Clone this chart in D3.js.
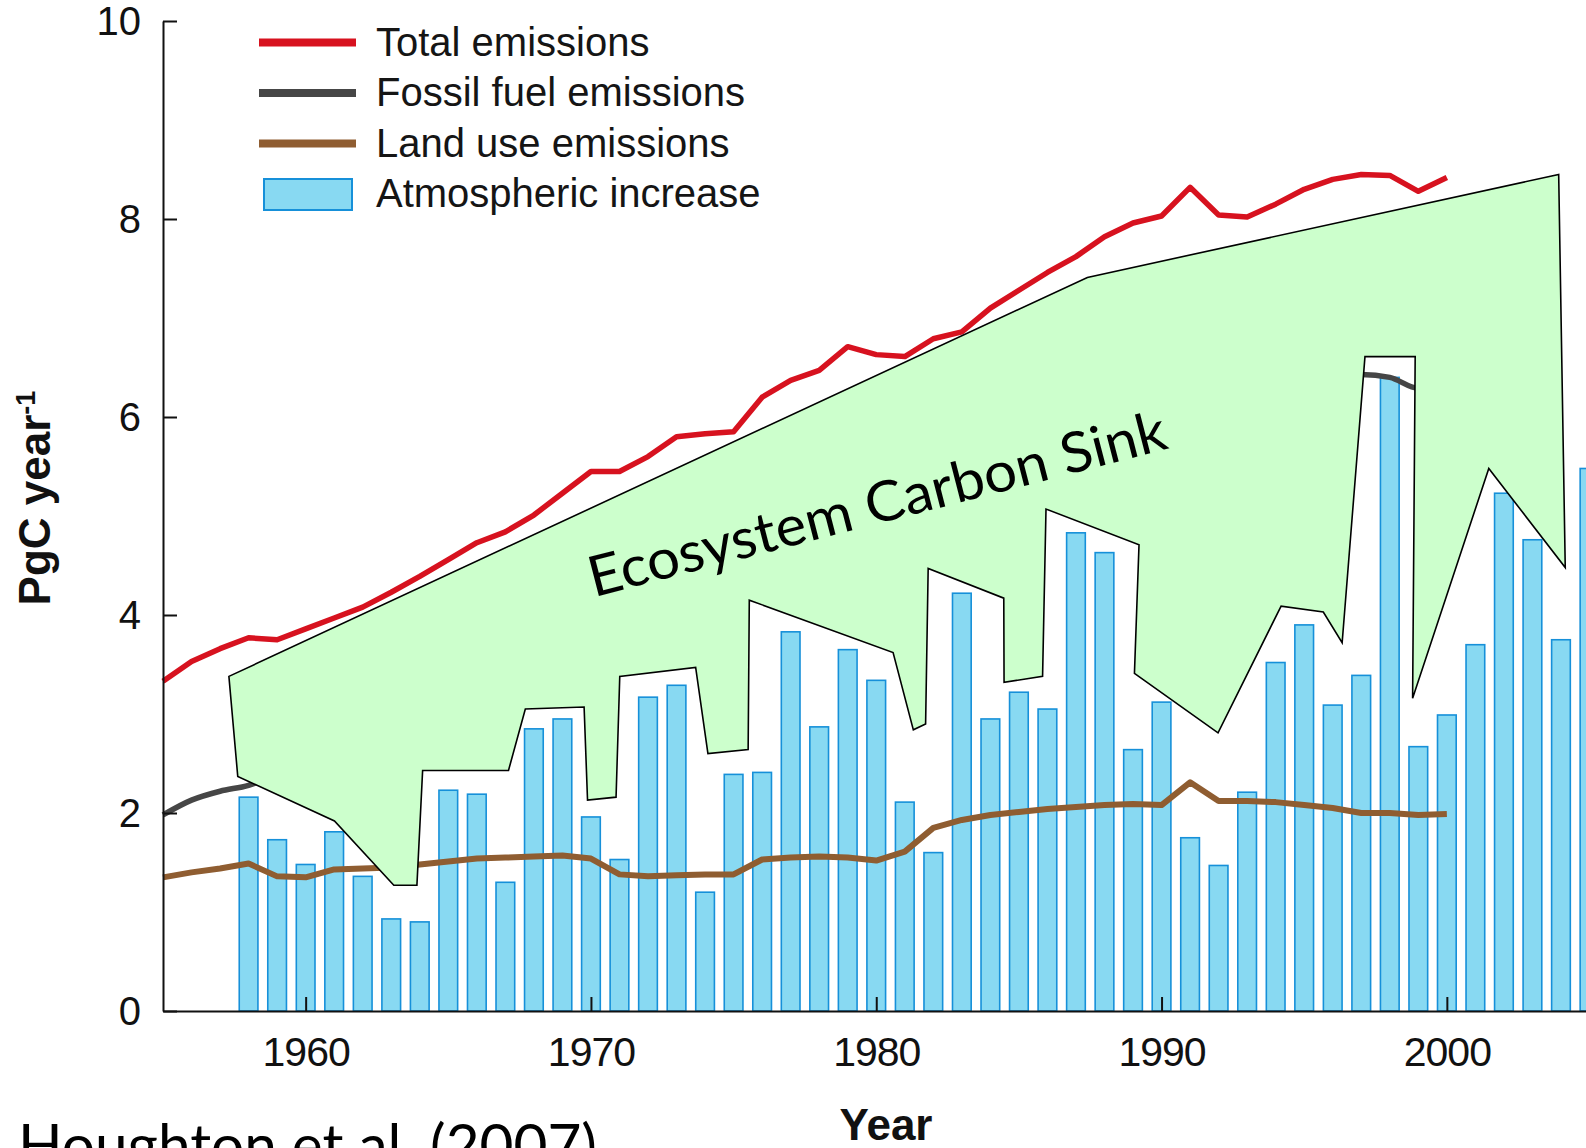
<!DOCTYPE html>
<html>
<head>
<meta charset="utf-8">
<script src="https://cdn.jsdelivr.net/npm/d3@7"></script>
<style>
  html, body { margin: 0; padding: 0; background: #ffffff; }
  svg { display: block; }
</style>
</head>
<body>
<svg id="chart" width="1586" height="1148"></svg>
<script>
// ---- Data (PgC per year) ----
const lineYears = [1955,1956,1957,1958,1959,1960,1961,1962,1963,1964,1965,1966,1967,1968,1969,
  1970,1971,1972,1973,1974,1975,1976,1977,1978,1979,1980,1981,1982,1983,1984,1985,1986,1987,1988,
  1989,1990,1991,1992,1993,1994,1995,1996,1997,1998,1999,2000];

const totalEmissions = [3.33,3.53,3.66,3.77,3.75,3.86,3.97,4.08,4.23,4.39,4.56,4.73,4.84,5.01,5.23,
  5.45,5.45,5.60,5.80,5.83,5.85,6.20,6.37,6.47,6.71,6.63,6.61,6.79,6.86,7.10,7.28,7.46,7.62,7.82,
  7.96,8.03,8.32,8.04,8.02,8.15,8.30,8.40,8.45,8.44,8.28,8.42];

const fossilFuelEmissions = [1.98,2.13,2.22,2.28,2.39,2.51,2.54,2.64,2.78,2.91,3.05,3.19,3.29,3.45,3.66,
  3.91,4.07,4.24,4.43,4.45,4.47,4.67,4.82,4.91,5.16,5.11,5.00,4.94,4.93,5.12,5.27,5.42,5.56,5.74,
  5.87,5.95,6.01,5.92,5.90,6.04,6.22,6.35,6.43,6.40,6.29,6.43];

const landUseEmissions = [1.35,1.40,1.44,1.49,1.36,1.35,1.43,1.44,1.45,1.48,1.51,1.54,1.55,1.56,1.57,
  1.54,1.38,1.36,1.37,1.38,1.38,1.53,1.55,1.56,1.55,1.52,1.61,1.85,1.93,1.98,2.01,2.04,2.06,2.08,
  2.09,2.08,2.31,2.12,2.12,2.11,2.08,2.05,2.00,2.00,1.98,1.99];

const barYears = [1958,1959,1960,1961,1962,1963,1964,1965,1966,1967,1968,1969,1970,1971,1972,1973,
  1974,1975,1976,1977,1978,1979,1980,1981,1982,1983,1984,1985,1986,1987,1988,1989,1990,1991,1992,
  1993,1994,1995,1996,1997,1998,1999,2000,2001,2002,2003,2004,2005];

const atmosphericIncrease = [2.16,1.73,1.48,1.81,1.36,0.93,0.90,2.23,2.19,1.30,2.85,2.95,1.96,1.53,
  3.17,3.29,1.20,2.39,2.41,3.83,2.87,3.65,3.34,2.11,1.60,4.22,2.95,3.22,3.05,4.83,4.63,2.64,3.12,
  1.75,1.47,2.21,3.52,3.90,3.09,3.39,6.40,2.67,2.99,3.70,5.23,4.76,3.75,5.48];

const xTickValues = [1960, 1970, 1980, 1990, 2000];
const yTickValues = [0, 2, 4, 6, 8, 10];

const legendLabels = ["Total emissions", "Fossil fuel emissions", "Land use emissions", "Atmospheric increase"];

// Outline of the ecosystem sink annotation, as [year, PgC] vertices
const sinkOutline = [
  [1957.31,3.38],[1987.40,7.41],[2003.92,8.45],[2004.15,4.48],[2001.47,5.48],[1998.80,3.16],
  [1998.89,6.61],[1997.13,6.61],[1996.33,3.72],[1995.67,4.03],[1994.19,4.09],[1991.98,2.81],
  [1989.05,3.41],[1989.21,4.71],[1985.95,5.07],[1985.83,3.38],[1984.48,3.32],[1984.47,4.17],
  [1981.82,4.47],[1981.73,2.90],[1981.30,2.84],[1980.59,3.62],[1975.55,4.15],[1975.51,2.64],
  [1974.10,2.60],[1973.67,3.47],[1971.01,3.38],[1970.88,2.16],[1969.88,2.13],[1969.76,3.07],
  [1967.70,3.05],[1967.11,2.43],[1964.10,2.43],[1963.90,1.27],[1963.09,1.27],[1961.01,1.92],
  [1957.62,2.37]
];

// ---- Styling ----
const COLORS = {
  total: "#d7121f",
  fossil: "#464646",
  land: "#8f5d31",
  barFill: "#88d9f2",
  barStroke: "#1690d9",
  sinkFill: "#ccffcc"
};
const AXIS_FONT = "'Liberation Sans', Arial, Helvetica, sans-serif";
const NOTE_FONT = "Lato, 'Open Sans', sans-serif";

const svg = d3.select("#chart");

const x = d3.scaleLinear().domain([1955, 2006]).range([163, 163 + 51 * 28.53]);
const y = d3.scaleLinear().domain([0, 10]).range([1011, 21]);

const yearStep = x(1956) - x(1955);
const barWidth = yearStep * 0.655;

// ---- Bars: atmospheric increase ----
svg.append("g")
  .selectAll("rect")
  .data(barYears.map((yr, i) => ({ yr, v: atmosphericIncrease[i] })))
  .join("rect")
  .attr("x", d => x(d.yr) - barWidth / 2)
  .attr("y", d => y(d.v))
  .attr("width", barWidth)
  .attr("height", d => y(0) - y(d.v))
  .attr("fill", COLORS.barFill)
  .attr("stroke", COLORS.barStroke)
  .attr("stroke-width", 1.6);

// ---- Emission lines ----
function drawSeries(values, color, width, curve) {
  const gen = d3.line()
    .x((d, i) => x(lineYears[i]))
    .y(d => y(d))
    .curve(curve || d3.curveLinear);
  svg.append("path")
    .datum(values)
    .attr("d", gen)
    .attr("fill", "none")
    .attr("stroke", color)
    .attr("stroke-width", width)
    .attr("stroke-linejoin", "round")
    .attr("stroke-linecap", "butt");
}
drawSeries(fossilFuelEmissions, COLORS.fossil, 5.5, d3.curveMonotoneX);
drawSeries(landUseEmissions, COLORS.land, 6);
drawSeries(totalEmissions, COLORS.total, 5.5);

// ---- Ecosystem carbon sink outline ----
svg.append("path")
  .datum(sinkOutline)
  .attr("d", d3.line().x(d => x(d[0])).y(d => y(d[1])).curve(d3.curveLinearClosed))
  .attr("fill", COLORS.sinkFill)
  .attr("stroke", "#000")
  .attr("stroke-width", 1.6)
  .attr("stroke-linejoin", "miter");

// ---- Axes ----
const xAxis = svg.append("g")
  .attr("transform", `translate(0,${y(0)})`)
  .call(d3.axisBottom(x).tickValues(xTickValues).tickFormat(d3.format("d"))
    .tickSizeInner(-14).tickSizeOuter(0).tickPadding(26));

const yAxis = svg.append("g")
  .attr("transform", `translate(${x(1955)},0)`)
  .call(d3.axisLeft(y).tickValues(yTickValues).tickFormat(d3.format("d"))
    .tickSizeInner(-14).tickSizeOuter(0).tickPadding(22));

[xAxis, yAxis].forEach(g => {
  g.select(".domain").attr("stroke", "#111").attr("stroke-width", 2);
  g.selectAll(".tick line").attr("stroke", "#111").attr("stroke-width", 2);
  g.selectAll(".tick text")
    .attr("fill", "#111")
    .style("font-family", AXIS_FONT)
    .style("font-size", "41px");
});
xAxis.selectAll(".tick text").style("letter-spacing", "-1px");
yAxis.selectAll(".tick text").style("font-size", "40px").attr("dy", "0.34em");

// Axis titles
svg.append("text")
  .attr("x", 886)
  .attr("y", 1140)
  .attr("text-anchor", "middle")
  .style("font-family", AXIS_FONT)
  .style("font-weight", "bold")
  .style("font-size", "44px")
  .attr("fill", "#111")
  .text("Year");

const yTitle = svg.append("text")
  .attr("transform", "translate(50,498) rotate(-90)")
  .attr("text-anchor", "middle")
  .style("font-family", AXIS_FONT)
  .style("font-weight", "bold")
  .style("font-size", "44px")
  .attr("fill", "#111");
yTitle.append("tspan").text("PgC year");
yTitle.append("tspan")
  .attr("dy", "-15")
  .style("font-size", "27px")
  .text("-1");

// ---- Legend ----
const legend = svg.append("g");
const legendSwatches = [
  { type: "line", color: COLORS.total },
  { type: "line", color: COLORS.fossil },
  { type: "line", color: COLORS.land },
  { type: "rect" }
];
legendLabels.forEach((label, i) => {
  const rowY = 42.5 + i * 50.5;
  const sw = legendSwatches[i];
  if (sw.type === "line") {
    legend.append("line")
      .attr("x1", 259).attr("x2", 356)
      .attr("y1", rowY).attr("y2", rowY)
      .attr("stroke", sw.color)
      .attr("stroke-width", 8);
  } else {
    legend.append("rect")
      .attr("x", 264).attr("y", rowY - 15)
      .attr("width", 88).attr("height", 31)
      .attr("fill", COLORS.barFill)
      .attr("stroke", COLORS.barStroke)
      .attr("stroke-width", 2);
  }
  legend.append("text")
    .attr("x", 376)
    .attr("y", rowY + 13)
    .style("font-family", AXIS_FONT)
    .style("font-size", "40px")
    .attr("fill", "#151515")
    .text(label);
});

// ---- Annotations ----
svg.append("text")
  .attr("transform", `translate(${x(1970.1)},${y(4.18)}) rotate(-14.5)`)
  .attr("textLength", 595)
  .attr("lengthAdjust", "spacingAndGlyphs")
  .style("font-family", NOTE_FONT)
  .style("font-size", "56px")
  .attr("fill", "#000")
  .text("Ecosystem Carbon Sink");

svg.append("text")
  .attr("x", 18)
  .attr("y", 1166)
  .attr("textLength", 579)
  .attr("lengthAdjust", "spacingAndGlyphs")
  .style("font-family", NOTE_FONT)
  .style("font-size", "58px")
  .attr("fill", "#000")
  .text("Houghton et al. (2007)");
</script>
</body>
</html>
